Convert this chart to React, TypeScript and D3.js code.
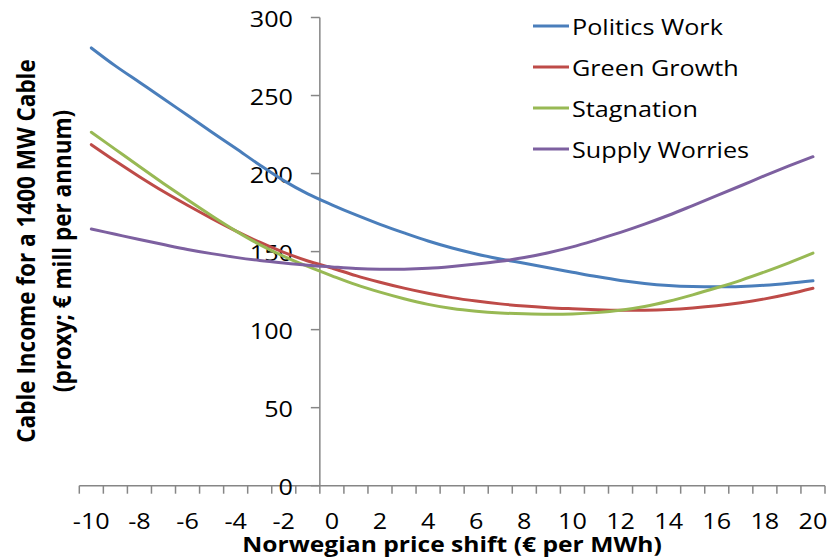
import React, { useRef, useEffect } from 'react';
import * as d3 from 'd3';

// price shift categories (€ per MWh)
const priceShift = [
  -10, -9, -8, -7, -6, -5, -4, -3, -2, -1, 0, 1, 2, 3, 4, 5, 6, 7, 8, 9, 10,
  11, 12, 13, 14, 15, 16, 17, 18, 19, 20,
];

const politicsWork = [
  280.5, 269, 258.5, 248, 237.3, 226.7, 216.2, 205.5, 195.5, 187, 180, 173.5,
  167.5, 162, 156.8, 152.3, 148.5, 145.3, 142.5, 139.6, 136.8, 134, 131.5,
  129.6, 128.3, 127.6, 127.4, 127.6, 128.4, 129.7, 131.3,
];
const greenGrowth = [
  218.5, 208, 198, 188.5, 179.7, 171.3, 163.3, 156, 149.5, 144, 139.5, 134.6,
  130.4, 126.6, 123.3, 120.5, 118.3, 116.5, 115.1, 114.1, 113.4, 112.8, 112.4,
  112.4, 112.9, 113.9, 115.3, 117.2, 119.7, 122.8, 126.5,
];
const stagnation = [
  226.5, 215.5, 204.5, 193.7, 183.2, 173, 163.3, 154.5, 147, 140.5, 134.5,
  128.8, 124, 119.8, 116.2, 113.5, 111.8, 110.7, 110.1, 109.8, 110, 110.9,
  112.4, 114.8, 118.2, 122.3, 126.8, 131.6, 137, 142.8, 149,
];
const supplyWorries = [
  164.5, 161.1, 157.7, 154.5, 151.4, 148.7, 146.3, 144.3, 142.7, 141.3, 140.2,
  139.2, 138.7, 138.7, 139.3, 140.5, 142, 143.8, 146.2, 149.3, 153, 157.5,
  162.3, 167.6, 173.3, 179.5, 185.8, 192.2, 198.7, 204.9, 210.8,
];

const seriesNames = ['Politics Work', 'Green Growth', 'Stagnation', 'Supply Worries'];
const seriesValues = [politicsWork, greenGrowth, stagnation, supplyWorries];
const seriesColors = ['#4a7ebb', '#be4b48', '#98b954', '#7d60a0'];

const yTicks = [0, 50, 100, 150, 200, 250, 300];
const xLabelValues = [-10, -8, -6, -4, -2, 0, 2, 4, 6, 8, 10, 12, 14, 16, 18, 20];

const FONT = "'Open Sans', 'DejaVu Sans', sans-serif";
const SX = 1.12; // the source text is drawn a little wide

const CableChart = () => {
  const ref = useRef<SVGSVGElement>(null);

  useEffect(() => {
    const svg = d3.select(ref.current);
    svg.selectAll('*').remove();

    const width = 827;
    const height = 560;
    svg.attr('width', width).attr('height', height);

    // category axis: one bin per euro, labels in the middle of a bin
    const x = d3.scaleLinear().domain([-10.5, 20.5]).range([79.3, 825]);
    const y = d3.scaleLinear().domain([0, 300]).range([485.7, 17.5]);
    const axisColor = '#868686';

    const text = (
      x0: number,
      y0: number,
      str: string,
      anchor: string,
      size: number,
      weight = 'normal',
      rotate = 0
    ) =>
      svg
        .append('g')
        .attr('transform', `translate(${x0},${y0}) scale(${SX},1) rotate(${rotate})`)
        .append('text')
        .attr('text-anchor', anchor)
        .style('font-family', FONT)
        .style('font-size', `${size}px`)
        .style('font-weight', weight)
        .attr('fill', '#000')
        .text(str);

    // x axis line and tick marks at the bin edges
    const x0 = y(0);
    svg
      .append('line')
      .attr('x1', x(-10.5))
      .attr('x2', x(20.5))
      .attr('y1', x0)
      .attr('y2', x0)
      .attr('stroke', axisColor)
      .attr('stroke-width', 1.5);
    svg
      .selectAll('.xtick')
      .data(d3.range(-10.5, 21, 1))
      .join('line')
      .attr('class', 'xtick')
      .attr('x1', (d) => x(d))
      .attr('x2', (d) => x(d))
      .attr('y1', x0)
      .attr('y2', x0 + 8)
      .attr('stroke', axisColor)
      .attr('stroke-width', 1.5);

    // y axis crosses between -1 and 0
    const yAxisX = x(-0.5);
    svg
      .append('line')
      .attr('x1', yAxisX)
      .attr('x2', yAxisX)
      .attr('y1', y(300))
      .attr('y2', y(0))
      .attr('stroke', axisColor)
      .attr('stroke-width', 1.5);
    svg
      .selectAll('.ytick')
      .data(yTicks)
      .join('line')
      .attr('class', 'ytick')
      .attr('x1', yAxisX - 9)
      .attr('x2', yAxisX)
      .attr('y1', (d) => y(d))
      .attr('y2', (d) => y(d))
      .attr('stroke', axisColor)
      .attr('stroke-width', 1.5);

    yTicks.forEach((t) => text(293, y(t) + 9.5, String(t), 'end', 22.5));
    xLabelValues.forEach((v) => text(x(v), 528.5, String(v), 'middle', 22.5));

    // series
    const line = d3
      .line<number>()
      .x((_, i) => x(priceShift[i]))
      .y((d) => y(d))
      .curve(d3.curveCatmullRom);

    seriesValues.forEach((vals, i) => {
      svg
        .append('path')
        .datum(vals)
        .attr('d', line)
        .attr('fill', 'none')
        .attr('stroke', seriesColors[i])
        .attr('stroke-width', 3)
        .attr('stroke-linecap', 'round');
    });

    // legend
    seriesNames.forEach((name, i) => {
      const cy = 26 + i * 41;
      svg
        .append('line')
        .attr('x1', 533)
        .attr('x2', 569)
        .attr('y1', cy)
        .attr('y2', cy)
        .attr('stroke', seriesColors[i])
        .attr('stroke-width', 3);
      text(572, cy + 8.5, name, 'start', 22.5);
    });

    // axis titles
    text(452, 552, 'Norwegian price shift (€ per MWh)', 'middle', 22, 'bold');
    text(35, 251, 'Cable Income for a 1400 MW Cable', 'middle', 22.5, 'bold', -90);
    text(71, 251, '(proxy; € mill per annum)', 'middle', 22.5, 'bold', -90);
  }, []);

  return <svg ref={ref} style={{ position: 'absolute', left: 0, top: 0 }}></svg>;
};

export default function App() {
  return <CableChart />;
}
